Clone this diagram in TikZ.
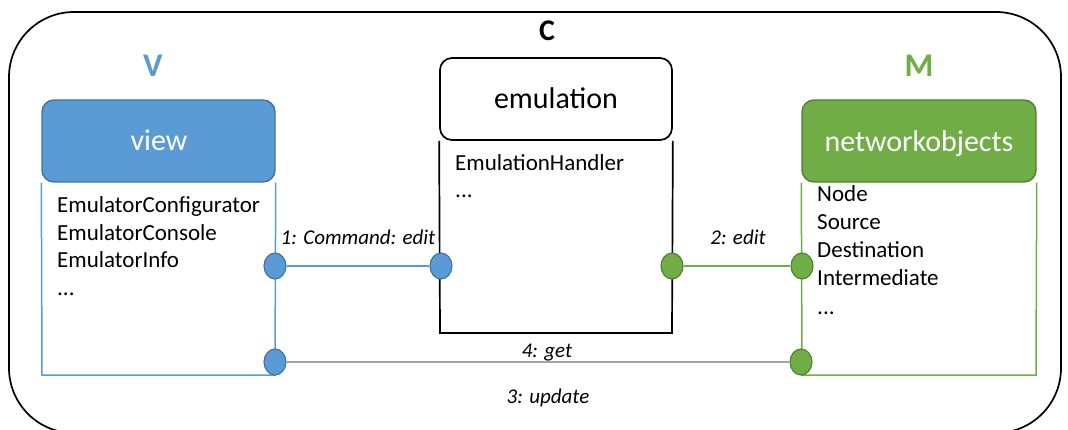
\documentclass[tikz,border=0pt]{standalone}
\usepackage{fontspec}
\setmainfont{Carlito}
\usetikzlibrary{shapes.geometric}

\definecolor{vblue}{HTML}{5B9BD5}
\definecolor{vbluedk}{HTML}{41719C}
\definecolor{mgreen}{HTML}{70AD47}
\definecolor{mgreendk}{HTML}{507E32}
\definecolor{linkgray}{HTML}{A5A5A5}

\begin{document}
\begin{tikzpicture}[x=1pt,y=-1pt,
  hdr/.style={rectangle, rounded corners=12pt, line width=1.4pt,
              minimum width=233pt, minimum height=82pt, inner sep=0pt},
  hdrtxt/.style={anchor=base, inner sep=0pt, font=\fontsize{30}{36}\selectfont},
  bodytxt/.style={anchor=base west, inner sep=0pt, font=\fontsize{23}{28}\selectfont},
  lbl/.style={anchor=base, inner sep=0pt, font=\fontsize{21}{25}\selectfont\itshape},
  letter/.style={anchor=base, inner sep=0pt, font=\fontsize{33}{40}\selectfont\bfseries},
  port/.style={ellipse, minimum width=22pt, minimum height=26pt, inner sep=0pt, line width=1.1pt},
  bport/.style={port, fill=vblue, draw=vbluedk},
  gport/.style={port, fill=mgreen, draw=mgreendk},
  link/.style={line width=2.6pt}
]
\useasboundingbox (0,0) rectangle (1068,430);

% outer controller frame
\begin{scope}
  \clip (0,0) rectangle (1068,430);
  \draw[line width=1.7pt, rounded corners=65pt] (9,12) rectangle (1061,433);
\end{scope}

% section letters
\node[letter, font=\fontsize{30}{36}\selectfont\bfseries] (cC) at (547,41) {C};
\node[letter, text=vblue] (cV) at (153,77) {V};
\node[letter, text=mgreen] (cM) at (919,77) {M};

% view package
\node[hdr, fill=vblue, draw=vbluedk] (viewh) at (158.5,141) {};
\node[hdrtxt, text=white] (viewt) at (159,151) {view};
\draw[vblue, line width=1.5pt] (viewh.south west) -- (42,375) -- (275,375) -- (viewh.south east);
\node[bodytxt] (v1) at (57,213) {EmulatorConfigurator};
\node[bodytxt] (v2) at (57,241) {EmulatorConsole};
\node[bodytxt] (v3) at (57,268) {EmulatorInfo};
\node[bodytxt] (v4) at (57,296) {...};

% emulation package
\node[hdr, fill=white, draw=black, line width=1.7pt, minimum width=232pt] (emuh) at (556,99) {};
\node[hdrtxt] (emut) at (556,109) {emulation};
\draw[black, line width=1.7pt] (emuh.south west) -- (440,333) -- (672,333) -- (emuh.south east);
\node[bodytxt] (e1) at (455,171) {EmulationHandler};
\node[bodytxt] (e2) at (455,198) {...};

% networkobjects package
\node[hdr, fill=mgreen, draw=mgreendk, minimum width=234pt] (neth) at (919,141) {};
\node[hdrtxt, text=white] (nett) at (919,152) {networkobjects};
\draw[mgreen, line width=1.5pt] (neth.south west) -- (802,375) -- (1036,375) -- (neth.south east);
\node[bodytxt] (n1) at (817,202) {Node};
\node[bodytxt] (n2) at (817,230) {Source};
\node[bodytxt] (n3) at (817,258) {Destination};
\node[bodytxt] (n4) at (817,286) {Intermediate};
\node[bodytxt] (n5) at (817,314) {...};

% ports
\node[bport] (pv1) at (275,266) {};
\node[bport] (pe1) at (441,266) {};
\node[gport] (pe2) at (672,266) {};
\node[gport] (pn1) at (802,266) {};
\node[bport] (pv2) at (275,362) {};
\node[gport] (pn2) at (801,362) {};

% connectors
\draw[link, vblue] (pv1) -- (pe1);
\draw[link, mgreen] (pe2) -- (pn1);
\draw[link, linkgray] (pv2) -- (pn2);

% connector labels
\node[lbl] (l1) at (358,245) {1: Command: edit};
\node[lbl] (l2) at (738,245) {2: edit};
\node[lbl] (l4) at (547,357) {4: get};
\node[lbl] (l3) at (548,403) {3: update};
\end{tikzpicture}
\end{document}
